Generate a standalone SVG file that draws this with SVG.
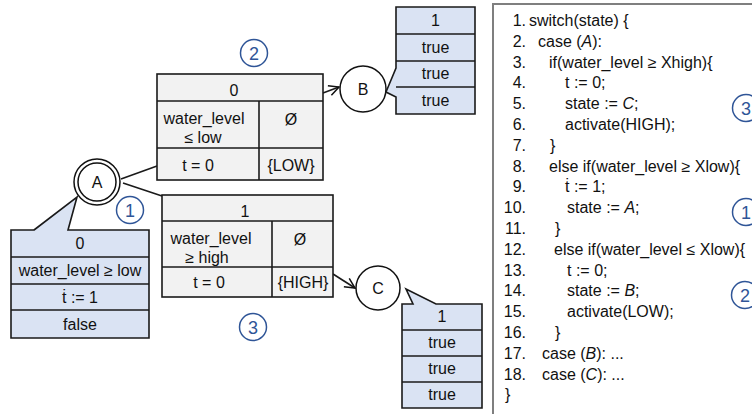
<svg xmlns="http://www.w3.org/2000/svg" width="752" height="414" viewBox="0 0 752 414">
<defs>
<style>
text{font-family:"Liberation Sans",Arial,"DejaVu Sans",sans-serif;font-size:16px;fill:#111}
.c{text-anchor:middle}
.tbl{fill:#f2f2f2;stroke:#1a1a1a;stroke-width:1.6}
.call{fill:#dae3f3;stroke:#1a1a1a;stroke-width:1.6}
.ln{stroke:#1a1a1a;stroke-width:1.6;fill:none}
.st{fill:#fff;stroke:#111;stroke-width:1.5}
.num circle{fill:none;stroke:#2f5597;stroke-width:1.5}
.num text{fill:#2f5597;font-size:18px;text-anchor:middle}
.code text{font-size:16px}
.n{text-anchor:end}
</style>
<marker id="ar" markerWidth="12" markerHeight="12" refX="11" refY="6" orient="auto" markerUnits="userSpaceOnUse">
<path d="M1,1 L11,6 L1,11" fill="none" stroke="#111" stroke-width="1.5"/>
</marker>
</defs>

<g id="connectors">
<line class="ln" x1="121" y1="179" x2="157" y2="166"/>
<line class="ln" x1="123" y1="183" x2="162" y2="196"/>
<line class="ln" x1="323" y1="93" x2="339" y2="87" marker-end="url(#ar)"/>
<line class="ln" x1="333" y1="274" x2="355" y2="288" marker-end="url(#ar)"/>
</g>

<g id="stateA">
<circle class="st" cx="97" cy="182" r="23"/>
<circle class="st" cx="97" cy="182" r="19"/>
<text class="c" x="97" y="188">A</text>
</g>

<g id="stateB">
<circle class="st" cx="363" cy="89" r="23"/>
<text class="c" x="363" y="95">B</text>
</g>

<g id="stateC">
<circle class="st" cx="378" cy="288" r="22"/>
<text class="c" x="378" y="294">C</text>
</g>

<g id="transLow">
<rect class="tbl" x="157" y="74" width="166" height="106"/>
<line class="ln" x1="157" y1="101" x2="323" y2="101"/>
<line class="ln" x1="157" y1="148" x2="323" y2="148"/>
<line class="ln" x1="259" y1="101" x2="259" y2="180"/>
<text class="c" x="234" y="96">0</text>
<text class="c" x="204" y="124">water_level</text>
<text class="c" x="203" y="143">≤ low</text>
<text class="c" x="291" y="125">Ø</text>
<text class="c" x="198" y="171">t = 0</text>
<text class="c" x="291" y="171">{LOW}</text>
</g>

<g id="transHigh">
<rect class="tbl" x="162" y="195" width="171" height="102"/>
<line class="ln" x1="162" y1="221" x2="333" y2="221"/>
<line class="ln" x1="162" y1="267" x2="333" y2="267"/>
<line class="ln" x1="272" y1="221" x2="272" y2="297"/>
<text class="c" x="245" y="217">1</text>
<text class="c" x="211" y="244">water_level</text>
<text class="c" x="207" y="263">≥ high</text>
<text class="c" x="300" y="245">Ø</text>
<text class="c" x="209" y="288">t = 0</text>
<text class="c" x="303" y="288">{HIGH}</text>
</g>

<g id="calloutA">
<path class="call" d="M34,230 L77,197 L68,230 L149,230 L149,338 L11,338 L11,230 Z"/>
<line class="ln" x1="11" y1="257" x2="149" y2="257"/>
<line class="ln" x1="11" y1="284" x2="149" y2="284"/>
<line class="ln" x1="11" y1="310" x2="149" y2="310"/>
<text class="c" x="80" y="249">0</text>
<text class="c" x="80" y="276">water_level ≥ low</text>
<text class="c" x="80" y="303">ṫ := 1</text>
<text class="c" x="80" y="330">false</text>
</g>

<g id="calloutB">
<path class="call" d="M396,7 L475,7 L475,114 L396,114 L396,97 L386,92 L396,68 Z"/>
<line class="ln" x1="396" y1="34" x2="475" y2="34"/>
<line class="ln" x1="396" y1="61" x2="475" y2="61"/>
<line class="ln" x1="396" y1="87" x2="475" y2="87"/>
<text class="c" x="435.5" y="26">1</text>
<text class="c" x="435.5" y="53">true</text>
<text class="c" x="435.5" y="79">true</text>
<text class="c" x="435.5" y="106">true</text>
</g>

<g id="calloutC">
<path class="call" d="M402,304 L413,304 L406,289 L436,304 L482,304 L482,408 L402,408 Z"/>
<line class="ln" x1="402" y1="330" x2="482" y2="330"/>
<line class="ln" x1="402" y1="356" x2="482" y2="356"/>
<line class="ln" x1="402" y1="382" x2="482" y2="382"/>
<text class="c" x="442" y="322">1</text>
<text class="c" x="442" y="348">true</text>
<text class="c" x="442" y="374">true</text>
<text class="c" x="442" y="400">true</text>
</g>

<g id="marks" class="num">
<g id="m1"><circle cx="130" cy="210" r="13.5"/><text x="130" y="216.5">1</text></g>
<g id="m2"><circle cx="254" cy="53" r="13.5"/><text x="254" y="59.5">2</text></g>
<g id="m3"><circle cx="253" cy="327" r="13.5"/><text x="253" y="333.5">3</text></g>
<g id="m3c"><circle cx="746" cy="108" r="13.5"/><text x="746" y="114.5">3</text></g>
<g id="m1c"><circle cx="746" cy="212" r="13.5"/><text x="746" y="218.5">1</text></g>
<g id="m2c"><circle cx="745" cy="295" r="13.5"/><text x="745" y="301.5">2</text></g>
</g>

<g id="code" class="code">
<rect x="493" y="4" width="300" height="450" fill="none" stroke="#7f7f7f" stroke-width="2"/>
<text class="n" x="526" y="26">1.</text><text x="529" y="26">switch(state) {</text>
<text class="n" x="526" y="46.8">2.</text><text x="538" y="46.8">case (<tspan font-style="italic">A</tspan>):</text>
<text class="n" x="526" y="67.6">3.</text><text x="549" y="67.6">if(water_level ≥ Xhigh){</text>
<text class="n" x="526" y="88.4">4.</text><text x="565" y="88.4">t := 0;</text>
<text class="n" x="526" y="109.2">5.</text><text x="565" y="109.2">state := <tspan font-style="italic">C</tspan>;</text>
<text class="n" x="526" y="130">6.</text><text x="565" y="130">activate(HIGH);</text>
<text class="n" x="526" y="150.8">7.</text><text x="550" y="150.8">}</text>
<text class="n" x="526" y="171.6">8.</text><text x="549" y="171.6">else if(water_level ≥ Xlow){</text>
<text class="n" x="526" y="192.4">9.</text><text x="565" y="192.4">ṫ := 1;</text>
<text class="n" x="526" y="213.2">10.</text><text x="567" y="213.2">state := <tspan font-style="italic">A</tspan>;</text>
<text class="n" x="526" y="234">11.</text><text x="555" y="234">}</text>
<text class="n" x="526" y="254.8">12.</text><text x="554" y="254.8">else if(water_level ≤ Xlow){</text>
<text class="n" x="526" y="275.6">13.</text><text x="567" y="275.6">t := 0;</text>
<text class="n" x="526" y="296.4">14.</text><text x="567" y="296.4">state := <tspan font-style="italic">B</tspan>;</text>
<text class="n" x="526" y="317.2">15.</text><text x="567" y="317.2">activate(LOW);</text>
<text class="n" x="526" y="338">16.</text><text x="555" y="338">}</text>
<text class="n" x="526" y="358.8">17.</text><text x="542" y="358.8">case (<tspan font-style="italic">B</tspan>): ...</text>
<text class="n" x="526" y="379.6">18.</text><text x="542" y="379.6">case (<tspan font-style="italic">C</tspan>): ...</text>
<text x="505" y="400.4">}</text>
</g>
</svg>
